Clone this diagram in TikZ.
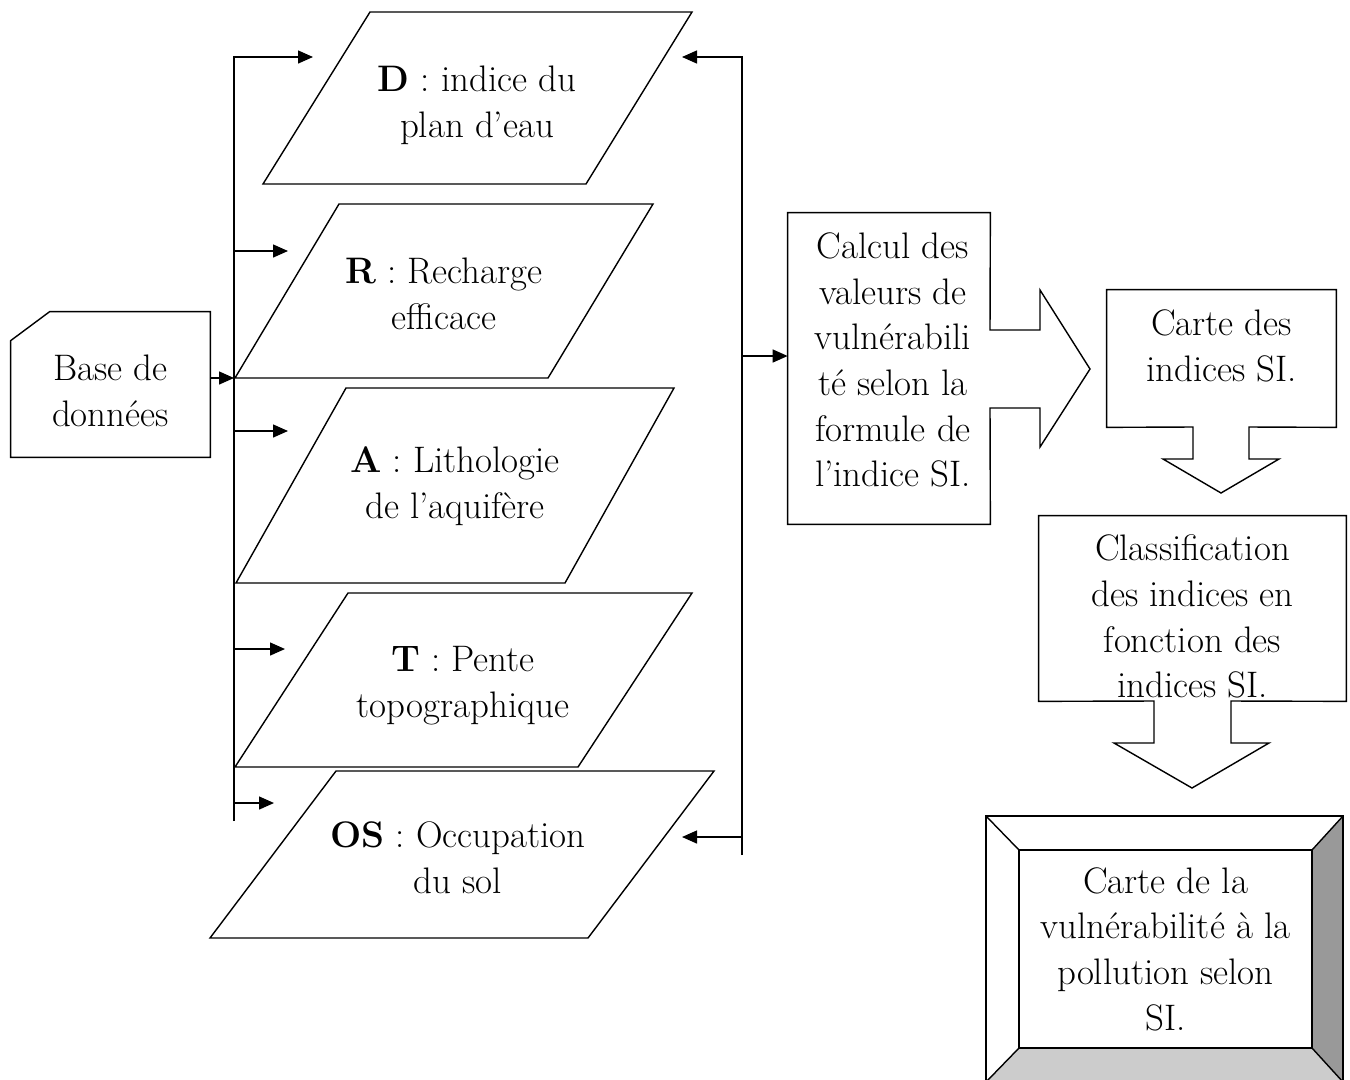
\documentclass[tikz,border=0pt]{standalone}
\usepackage{fontspec}
\usepackage{tikz}
\usetikzlibrary{arrows.meta}

\tikzset{
  flow/.style={draw=black, line width=0.8pt},
  txt/.style={align=center, inner sep=0pt, font=\fontsize{21}{26}\selectfont},
  blank/.style={rectangle, inner sep=0pt},
}

\begin{document}
\begin{tikzpicture}[x=0.2mm, y=-0.2mm, >={Triangle[length=3mm,width=2.6mm]}]
            \useasboundingbox (0,0) rectangle (1350,1079);

            % base de donnees
            \node[blank, minimum width=39.8mm, minimum height=29mm] (card) at (110.5,384.5) {};
            \node[txt] (cardT) at (110.5,391) {Base de\\données};
            \draw[flow] ([yshift=-5.8mm]card.north west) -- ([xshift=7.8mm]card.north west) -- (card.north east) -- (card.south east) -- (card.south west) -- cycle;

            % les cinq parametres
            \draw[flow] (263,184) -- (370,12) -- (692,12) -- (586,184) -- cycle;
            \draw[flow] (235,378) -- (339,204) -- (653,204) -- (548,378) -- cycle;
            \draw[flow] (236,583) -- (346,388) -- (674,388) -- (565,583) -- cycle;
            \draw[flow] (235,767) -- (348,593) -- (692,593) -- (578,767) -- cycle;
            \draw[flow] (210,938) -- (336,771) -- (714,771) -- (588,938) -- cycle;
            \begin{scope}[every node/.style={txt}]
                \node (D) at (477,105) {\textbf{D} : indice du\\plan d’eau};
                \node (R) at (444,293.5) {\textbf{R} : Recharge\\efficace};
                \node (A) at (455,486.5) {\textbf{A} : Lithologie\\de l’aquifère};
                \node (T) at (463,685.5) {\textbf{T} : Pente\\topographique};
                \node (OS) at (458,858) {\textbf{OS} : Occupation\\du sol};
            \end{scope}

            % calcul
            \node[blank, minimum width=40.4mm, minimum height=62.2mm] (calc) at (889,368.5) {};
            \node[txt] (calcT) at (893,360) {Calcul des\\valeurs de\\vulnérabili\\té selon la\\formule de\\l’indice SI.};
            \draw[flow] (990,330) -- (calc.north east) -- (calc.north west) -- (calc.south west) -- (calc.south east) -- (990,408) -- (1040,408) -- (1040,447) -- (1090,369) -- (1040,290) -- (1040,330) -- cycle;

            % carte des indices
            \node[blank, minimum width=45.8mm, minimum height=27.4mm] (carte) at (1221.5,358.5) {};
            \node[txt] (carteT) at (1221.5,346) {Carte des\\indices SI.};
            \draw[flow] (1193,427) -- (carte.south west) -- (carte.north west) -- (carte.north east) -- (carte.south east) -- (1249,427) -- (1249,459) -- (1279,459) -- (1221,493) -- (1163,459) -- (1193,459) -- cycle;

            % classification
            \node[blank, minimum width=61.4mm, minimum height=37mm] (class) at (1192.5,608.5) {};
            \node[txt] (classT) at (1192.5,616.5) {Classification\\des indices en\\fonction des\\indices SI.};
            \draw[flow] (1154,701) -- (class.south west) -- (class.north west) -- (class.north east) -- (class.south east) -- (1231,701) -- (1231,743) -- (1269,743) -- (1192,788) -- (1114,743) -- (1154,743) -- cycle;

            % carte finale
            \fill[black!40] (1312,850) -- (1343,816) -- (1343,1082) -- (1312,1048) -- cycle;
            \fill[black!20] (1019,1048) -- (1312,1048) -- (1343,1082) -- (986,1082) -- cycle;
            \draw[flow] (986,816) rectangle (1343,1082);
            \draw[flow] (986,816) -- (1019,850) (1343,816) -- (1312,850) (1343,1082) -- (1312,1048) (986,1082) -- (1019,1048);
            \node[blank, flow, txt, fill=white, minimum width=58.6mm, minimum height=39.6mm] (final) at (1165.5,949) {Carte de la\\vulnérabilité à la\\pollution selon\\SI.};

            % connecteurs
            \coordinate (busLtop) at (234,57);
            \coordinate (busLbot) at (234,821);
            \coordinate (hub) at (234,378);
            \coordinate (inD) at (313,57);
            \coordinate (inR) at (288,251);
            \coordinate (inA) at (288,431);
            \coordinate (inT) at (285,649);
            \coordinate (inOS) at (274,803);
            \coordinate (busRtop) at (742,57);
            \coordinate (busRbot) at (742,855);
            \coordinate (outD) at (682,57);
            \coordinate (outOS) at (682,837);
            \coordinate (jR) at (742,356);

            \draw[flow,->] (busLbot) -- (busLtop) -- (inD);
            \foreach \t in {inR,inA,inT,inOS}
                \draw[flow,->] (busLtop |- \t) -- (\t);
            \draw[flow,->] (card.east |- hub) -- (hub);
            \draw[flow,->] (busRbot) -- (busRtop) -- (outD);
            \draw[flow,->] (busRtop |- outOS) -- (outOS);
            \draw[flow,->] (jR) -- (calc.west |- jR);
\end{tikzpicture}
\end{document}
